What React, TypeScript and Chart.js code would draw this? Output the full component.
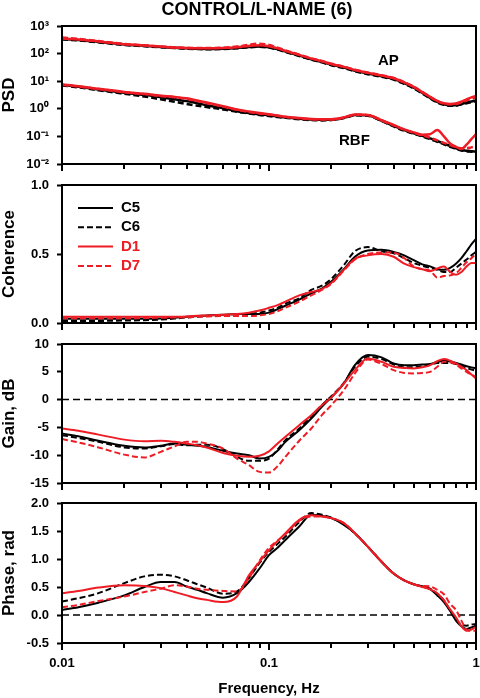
import React, { useEffect, useRef } from "react";
import { Chart, registerables } from "chart.js";

Chart.register(...registerables);

// ---------------- DATA ----------------
const chartTitle = "CONTROL/L-NAME (6)";
const xTitle = "Frequency, Hz";
const seriesNames = ["C5", "C6", "D1", "D7"];

const freq = [0.01, 0.012, 0.015, 0.02, 0.025, 0.03, 0.035, 0.04, 0.045, 0.05, 0.06, 0.07, 0.08, 0.09, 0.1, 0.11, 0.12, 0.14, 0.16, 0.18, 0.2, 0.23, 0.26, 0.3, 0.35, 0.4, 0.45, 0.5, 0.55, 0.6, 0.65, 0.7, 0.75, 0.8, 0.85, 0.9, 0.95, 1.0];

const xTickMarks = [0.01, 0.02, 0.03, 0.04, 0.05, 0.06, 0.07, 0.08, 0.09, 0.1, 0.2, 0.3, 0.4, 0.5, 0.6, 0.7, 0.8, 0.9, 1];
const xTickValues = [0.01, 0.1, 1];
const xTickLabels = ["0.01", "0.1", "1"];
const psdTicks = [0.01, 0.1, 1, 10, 100, 1000];
const cohTicks = [0, 0.5, 1];
const gainTicks = [-15, -10, -5, 0, 5, 10];
const phaseTicks = [-0.5, 0, 0.5, 1, 1.5, 2];

// PSD – arterial pressure (AP)
const apC5 = [340, 310, 265, 215, 192, 175, 162, 155, 150, 148, 150, 160, 175, 180, 170, 145, 120, 85, 62, 50, 40, 31, 24, 19, 15, 12, 8.5, 5.8, 3.8, 2.5, 1.8, 1.45, 1.35, 1.35, 1.5, 1.7, 1.85, 2.0];
const apC6 = [330, 300, 255, 205, 185, 170, 158, 150, 146, 144, 147, 156, 170, 176, 165, 140, 115, 82, 60, 48, 38, 30, 23, 18, 14.5, 11.5, 8, 5.5, 3.6, 2.4, 1.7, 1.4, 1.3, 1.3, 1.45, 1.6, 1.75, 1.9];
const apD1 = [355, 325, 275, 220, 198, 180, 166, 160, 156, 155, 158, 170, 190, 200, 185, 155, 126, 90, 66, 53, 42, 33, 25.5, 20, 16, 12.8, 9, 6.2, 4, 2.7, 1.95, 1.6, 1.5, 1.55, 1.8, 2.2, 2.6, 2.9];
const apD7 = [380, 340, 285, 225, 200, 182, 168, 162, 158, 158, 163, 180, 210, 228, 205, 165, 130, 92, 67, 54, 43, 33.5, 26, 20.5, 16.5, 13, 9.2, 6.3, 4.1, 2.7, 1.9, 1.55, 1.45, 1.5, 1.7, 2.0, 2.3, 2.6];

// PSD – renal blood flow (RBF)
const rbfC5 = [7.3, 6.3, 5.0, 3.8, 3.2, 2.6, 2.2, 1.9, 1.6, 1.35, 1.05, 0.82, 0.7, 0.63, 0.58, 0.53, 0.49, 0.44, 0.41, 0.4, 0.4, 0.47, 0.6, 0.58, 0.37, 0.24, 0.17, 0.13, 0.105, 0.085, 0.068, 0.055, 0.045, 0.037, 0.032, 0.03, 0.029, 0.028];
const rbfC6 = [7.0, 6.0, 4.7, 3.5, 2.8, 2.2, 1.8, 1.5, 1.3, 1.15, 0.95, 0.78, 0.68, 0.6, 0.55, 0.5, 0.47, 0.42, 0.39, 0.38, 0.39, 0.46, 0.58, 0.56, 0.36, 0.23, 0.16, 0.125, 0.1, 0.08, 0.064, 0.052, 0.042, 0.035, 0.031, 0.029, 0.028, 0.027];
const rbfD1 = [7.6, 6.6, 5.3, 4.1, 3.5, 3.0, 2.7, 2.4, 2.0, 1.7, 1.25, 0.95, 0.8, 0.7, 0.63, 0.57, 0.52, 0.46, 0.43, 0.42, 0.42, 0.49, 0.62, 0.6, 0.39, 0.26, 0.18, 0.14, 0.115, 0.12, 0.17, 0.1, 0.055, 0.042, 0.035, 0.05, 0.08, 0.12];
const rbfD7 = [7.4, 6.4, 5.2, 4.0, 3.4, 2.9, 2.6, 2.3, 1.9, 1.6, 1.2, 0.92, 0.77, 0.68, 0.62, 0.56, 0.51, 0.45, 0.42, 0.41, 0.41, 0.48, 0.61, 0.59, 0.38, 0.25, 0.175, 0.135, 0.11, 0.09, 0.072, 0.058, 0.048, 0.041, 0.037, 0.037, 0.04, 0.043];

// Coherence
const cohC5 = [0.03, 0.03, 0.03, 0.03, 0.03, 0.032, 0.038, 0.045, 0.05, 0.055, 0.06, 0.065, 0.065, 0.065, 0.075, 0.1, 0.125, 0.17, 0.215, 0.25, 0.3, 0.39, 0.48, 0.525, 0.53, 0.515, 0.49, 0.455, 0.425, 0.41, 0.39, 0.385, 0.4, 0.43, 0.47, 0.52, 0.57, 0.61];
const cohC6 = [0.015, 0.015, 0.015, 0.018, 0.02, 0.025, 0.032, 0.04, 0.045, 0.05, 0.055, 0.06, 0.065, 0.075, 0.09, 0.11, 0.14, 0.18, 0.24, 0.27, 0.32, 0.42, 0.52, 0.55, 0.52, 0.505, 0.47, 0.435, 0.415, 0.4, 0.385, 0.37, 0.37, 0.4, 0.43, 0.46, 0.49, 0.515];
const cohD1 = [0.045, 0.045, 0.045, 0.045, 0.045, 0.045, 0.046, 0.048, 0.052, 0.055, 0.06, 0.065, 0.075, 0.09, 0.11, 0.13, 0.155, 0.2, 0.225, 0.245, 0.29, 0.385, 0.465, 0.49, 0.5, 0.48, 0.43, 0.405, 0.39, 0.375, 0.395, 0.41, 0.37, 0.35, 0.37, 0.41, 0.435, 0.435];
const cohD7 = [0.035, 0.035, 0.035, 0.035, 0.036, 0.038, 0.04, 0.042, 0.045, 0.048, 0.05, 0.05, 0.05, 0.055, 0.065, 0.085, 0.11, 0.155, 0.2, 0.24, 0.285, 0.38, 0.46, 0.5, 0.51, 0.51, 0.47, 0.41, 0.39, 0.38, 0.33, 0.34, 0.345, 0.36, 0.4, 0.44, 0.47, 0.5];

// Gain, dB
const gainC5 = [-6.1, -6.6, -7.4, -8.3, -8.6, -8.3, -7.9, -8.1, -8.3, -8.5, -9.2, -9.7, -10.0, -10.6, -10.3, -9.2, -7.6, -5.5, -3.4, -1.3, 0.4, 2.9, 6.2, 8.0, 7.6, 6.5, 6.2, 6.2, 6.3, 6.4, 6.8, 7.0, 6.9, 6.6, 6.3, 6.0, 5.8, 5.6];
const gainC6 = [-6.4, -6.9, -7.6, -8.6, -8.8, -8.4, -8.0, -8.2, -8.1, -8.1, -8.9, -10.3, -11.0, -11.0, -10.6, -9.0, -7.3, -5.2, -3.0, -1.0, 0.6, 3.0, 5.9, 7.7, 7.3, 6.3, 5.8, 5.8, 6.0, 6.2, 6.6, 6.6, 6.6, 6.4, 6.0, 5.7, 5.4, 5.2];
const gainD1 = [-5.2, -5.6, -6.3, -7.2, -7.5, -7.4, -7.6, -7.9, -8.2, -8.6, -9.6, -10.1, -10.3, -10.1, -9.3, -7.9, -6.7, -4.6, -2.8, -1.0, 0.4, 2.9, 5.3, 7.4, 6.8, 5.9, 5.7, 5.6, 5.8, 6.2, 6.9, 7.3, 7.0, 6.5, 5.9, 5.3, 4.5, 3.8];
const gainD7 = [-7.1, -7.7, -8.6, -9.9, -10.4, -9.4, -8.4, -7.6, -7.6, -7.9, -8.8, -10.6, -11.8, -13.0, -13.1, -12.0, -10.3, -7.4, -5.2, -2.8, -1.0, 1.7, 4.7, 7.2, 6.4, 5.3, 4.8, 4.7, 4.8, 5.0, 5.9, 6.8, 6.7, 6.3, 5.6, 5.0, 4.5, 4.1];

// Phase, rad
const phaseC5 = [0.09, 0.14, 0.22, 0.35, 0.5, 0.59, 0.59, 0.51, 0.45, 0.39, 0.31, 0.39, 0.59, 0.83, 1.07, 1.2, 1.34, 1.58, 1.79, 1.77, 1.73, 1.61, 1.46, 1.22, 0.95, 0.74, 0.62, 0.55, 0.51, 0.46, 0.35, 0.23, 0.07, -0.1, -0.2, -0.25, -0.22, -0.19];
const phaseC6 = [0.24, 0.3, 0.39, 0.57, 0.69, 0.72, 0.69, 0.62, 0.55, 0.49, 0.38, 0.42, 0.66, 0.93, 1.13, 1.27, 1.4, 1.66, 1.82, 1.79, 1.74, 1.62, 1.46, 1.22, 0.95, 0.74, 0.62, 0.55, 0.51, 0.47, 0.38, 0.26, 0.08, -0.08, -0.17, -0.19, -0.17, -0.16];
const phaseD1 = [0.39, 0.43, 0.49, 0.53, 0.52, 0.48, 0.41, 0.35, 0.3, 0.27, 0.23, 0.33, 0.71, 0.95, 1.16, 1.32, 1.46, 1.7, 1.78, 1.76, 1.73, 1.64, 1.46, 1.22, 0.95, 0.74, 0.62, 0.55, 0.5, 0.46, 0.39, 0.26, 0.1, -0.04, -0.2, -0.28, -0.26, -0.21];
const phaseD7 = [0.14, 0.18, 0.25, 0.33, 0.41, 0.47, 0.53, 0.51, 0.47, 0.45, 0.43, 0.42, 0.66, 0.97, 1.2, 1.33, 1.44, 1.68, 1.76, 1.76, 1.73, 1.64, 1.46, 1.22, 0.95, 0.74, 0.62, 0.55, 0.52, 0.51, 0.45, 0.37, 0.2, 0.09, -0.1, -0.26, -0.28, -0.28];

const zeroLine = [0, 0];
const zeroLineX = [0.01, 1];

// ---------------- STYLE / LAYOUT ----------------
const W = 480;
const H = 698;
const FONT = "'Liberation Sans', Arial, Helvetica, sans-serif";
const RED = "#ee1c25";
const BLACK = "#000000";
const seriesStyles = [
  { color: BLACK, dash: [] as number[], order: 3 },
  { color: BLACK, dash: [6, 3], order: 2 },
  { color: RED, dash: [] as number[], order: 1 },
  { color: RED, dash: [6, 3], order: 0 },
];

const supMap: Record<string, string> = { "-": "\u207B", "0": "\u2070", "1": "\u00B9", "2": "\u00B2", "3": "\u00B3" };
const supText = (s: string) => s.split("").map((c) => supMap[c] || c).join("");
const near = (a: number, b: number) => Math.abs(Math.log10(a) - Math.log10(b)) < 1e-6;

function seriesSet(values: number[][], width: number) {
  return values.map((vals, i) => ({
    label: seriesNames[i],
    data: freq.map((f, k) => ({ x: f, y: vals[k] })),
    borderColor: seriesStyles[i].color,
    backgroundColor: seriesStyles[i].color,
    borderDash: seriesStyles[i].dash,
    borderWidth: width,
    pointRadius: 0,
    pointHoverRadius: 0,
    cubicInterpolationMode: "monotone",
    fill: false,
    order: seriesStyles[i].order,
  }));
}

function zeroSet() {
  return {
    label: "zero",
    data: zeroLineX.map((x, i) => ({ x, y: zeroLine[i] })),
    borderColor: BLACK,
    borderDash: [7, 4],
    borderWidth: 1.5,
    pointRadius: 0,
    pointHoverRadius: 0,
    fill: false,
    order: 10,
  };
}

const panels = [
  {
    top: 26, bottom: 164, yType: "logarithmic", yMin: 0.01, yMax: 1000, ticks: psdTicks, yTitle: "PSD",
    fmt: (v: number) => "10" + supText(String(Math.round(Math.log10(v)))),
    datasets: () => [
      ...seriesSet([apC5, apC6, apD1, apD7], 2.5),
      ...seriesSet([rbfC5, rbfC6, rbfD1, rbfD7], 2.5).map((d) => ({ ...d, label: "RBF " + d.label })),
    ],
  },
  {
    top: 185, bottom: 323, yType: "linear", yMin: 0, yMax: 1, ticks: cohTicks, yTitle: "Coherence",
    fmt: (v: number) => v.toFixed(1),
    datasets: () => seriesSet([cohC5, cohC6, cohD1, cohD7], 2),
  },
  {
    top: 344, bottom: 483, yType: "linear", yMin: -15, yMax: 10, ticks: gainTicks, yTitle: "Gain, dB",
    fmt: (v: number) => String(v),
    datasets: () => [zeroSet(), ...seriesSet([gainC5, gainC6, gainD1, gainD7], 2)],
  },
  {
    top: 503, bottom: 643, yType: "linear", yMin: -0.5, yMax: 2, ticks: phaseTicks, yTitle: "Phase, rad",
    fmt: (v: number) => v.toFixed(1),
    datasets: () => [zeroSet(), ...seriesSet([phaseC5, phaseC6, phaseD1, phaseD7], 2)],
  },
];

const framePlugin = {
  id: "frame",
  afterDraw(chart: any) {
    const { ctx, chartArea: a } = chart;
    const xs = chart.scales.x;
    ctx.save();
    ctx.setLineDash([]);
    ctx.strokeStyle = BLACK;
    ctx.lineWidth = 2;
    ctx.strokeRect(a.left, a.top, a.right - a.left, a.bottom - a.top);
    // x-axis tick marks (minor + decade)
    xTickMarks.forEach((v) => {
      const px = Math.round(xs.getPixelForValue(v));
      const len = xTickValues.some((t) => near(t, v)) ? 7 : 5;
      ctx.beginPath();
      ctx.moveTo(px, a.bottom);
      ctx.lineTo(px, a.bottom + len);
      ctx.stroke();
    });
    ctx.restore();
  },
};

const titlePlugin = {
  id: "figTitle",
  afterDraw(chart: any) {
    const ctx = chart.ctx;
    ctx.save();
    ctx.font = `bold 18px ${FONT}`;
    ctx.fillStyle = BLACK;
    ctx.textAlign = "center";
    ctx.textBaseline = "middle";
    ctx.fillText(chartTitle, 257, 10);
    ctx.restore();
  },
};

const psdLabelPlugin = {
  id: "psdLabels",
  afterDraw(chart: any) {
    const ctx = chart.ctx;
    ctx.save();
    ctx.font = `bold 15px ${FONT}`;
    ctx.fillStyle = BLACK;
    ctx.textAlign = "left";
    ctx.textBaseline = "middle";
    ctx.fillText("AP", 378, 61);
    ctx.fillText("RBF", 339, 141);
    ctx.restore();
  },
};

const legendPlugin = {
  id: "legendBox",
  afterDraw(chart: any) {
    const ctx = chart.ctx;
    ctx.save();
    ctx.font = `bold 15px ${FONT}`;
    ctx.textAlign = "left";
    ctx.textBaseline = "middle";
    seriesNames.forEach((name, i) => {
      const y = 208 + i * 19.3;
      const st = seriesStyles[i];
      ctx.strokeStyle = st.color;
      ctx.lineWidth = 2;
      ctx.setLineDash(st.dash);
      ctx.beginPath();
      ctx.moveTo(78, y);
      ctx.lineTo(113, y);
      ctx.stroke();
      ctx.setLineDash([]);
      ctx.fillStyle = st.color;
      ctx.fillText(name, 121, y);
    });
    ctx.restore();
  },
};

function buildConfig(p: any, idx: number): any {
  const isLast = idx === panels.length - 1;
  const xAxisH = isLast ? H - p.bottom : 8;
  const axisFont = { family: FONT, size: 13, weight: "bold" };
  const titleFont = { family: FONT, size: 17, weight: "bold" };
  const extra: any[] = [framePlugin];
  if (idx === 0) extra.push(titlePlugin, psdLabelPlugin);
  if (idx === 1) extra.push(legendPlugin);
  return {
    type: "line",
    data: { datasets: p.datasets() },
    options: {
      responsive: false,
      animation: false,
      devicePixelRatio: 1,
      events: [],
      layout: { autoPadding: false, padding: { left: 0, right: 4, top: p.top, bottom: H - p.bottom - xAxisH } },
      plugins: { legend: { display: false }, tooltip: { enabled: false }, title: { display: false } },
      scales: {
        x: {
          type: "logarithmic",
          min: 0.01,
          max: 1,
          border: { display: true, color: BLACK, width: 2 },
          grid: { display: false, drawOnChartArea: false, drawTicks: false },
          afterBuildTicks: (s: any) => {
            s.ticks = xTickMarks.map((v) => ({ value: v }));
          },
          ticks: {
            autoSkip: false,
            maxRotation: 0,
            minRotation: 0,
            padding: 13,
            color: BLACK,
            font: { family: FONT, size: 13, weight: "bold" },
            callback: (v: any) => {
              if (!isLast) return "";
              const k = xTickValues.findIndex((t) => near(t, Number(v)));
              return k >= 0 ? xTickLabels[k] : "";
            },
          },
          title: { display: isLast, text: xTitle, color: BLACK, font: { family: FONT, size: 15, weight: "bold" }, padding: { top: 2, bottom: 0 } },
          afterFit: (s: any) => {
            s.height = xAxisH;
            s.paddingLeft = 0;
            s.paddingRight = 0;
          },
        },
        y: {
          type: p.yType,
          min: p.yMin,
          max: p.yMax,
          border: { display: true, color: BLACK, width: 2 },
          grid: { drawOnChartArea: false, drawTicks: true, tickLength: 5, tickColor: BLACK, tickWidth: 2 },
          afterBuildTicks: (s: any) => {
            s.ticks = p.ticks.map((v: number) => ({ value: v }));
          },
          ticks: { padding: 8, color: BLACK, font: axisFont, callback: (v: any) => p.fmt(Number(v)) },
          title: { display: true, text: p.yTitle, color: BLACK, font: titleFont, padding: { top: -1, bottom: 0 } },
          afterFit: (s: any) => {
            s.width = 62;
          },
        },
      },
    },
    plugins: extra,
  };
}

export default function App() {
  const r0 = useRef<HTMLCanvasElement>(null);
  const r1 = useRef<HTMLCanvasElement>(null);
  const r2 = useRef<HTMLCanvasElement>(null);
  const r3 = useRef<HTMLCanvasElement>(null);
  const refs = [r0, r1, r2, r3];

  useEffect(() => {
    const charts = panels.map((p, i) => new Chart(refs[i].current as HTMLCanvasElement, buildConfig(p, i)));
    return () => charts.forEach((c) => c.destroy());
  }, []);

  return (
    <div style={{ position: "absolute", left: 0, top: 0, width: W, height: H, background: "#fff", overflow: "hidden" }}>
      {refs.map((r, i) => (
        <canvas
          key={i}
          ref={r}
          width={W}
          height={H}
          style={{ position: "absolute", left: 0, top: 0, width: W, height: H }}
        />
      ))}
    </div>
  );
}
